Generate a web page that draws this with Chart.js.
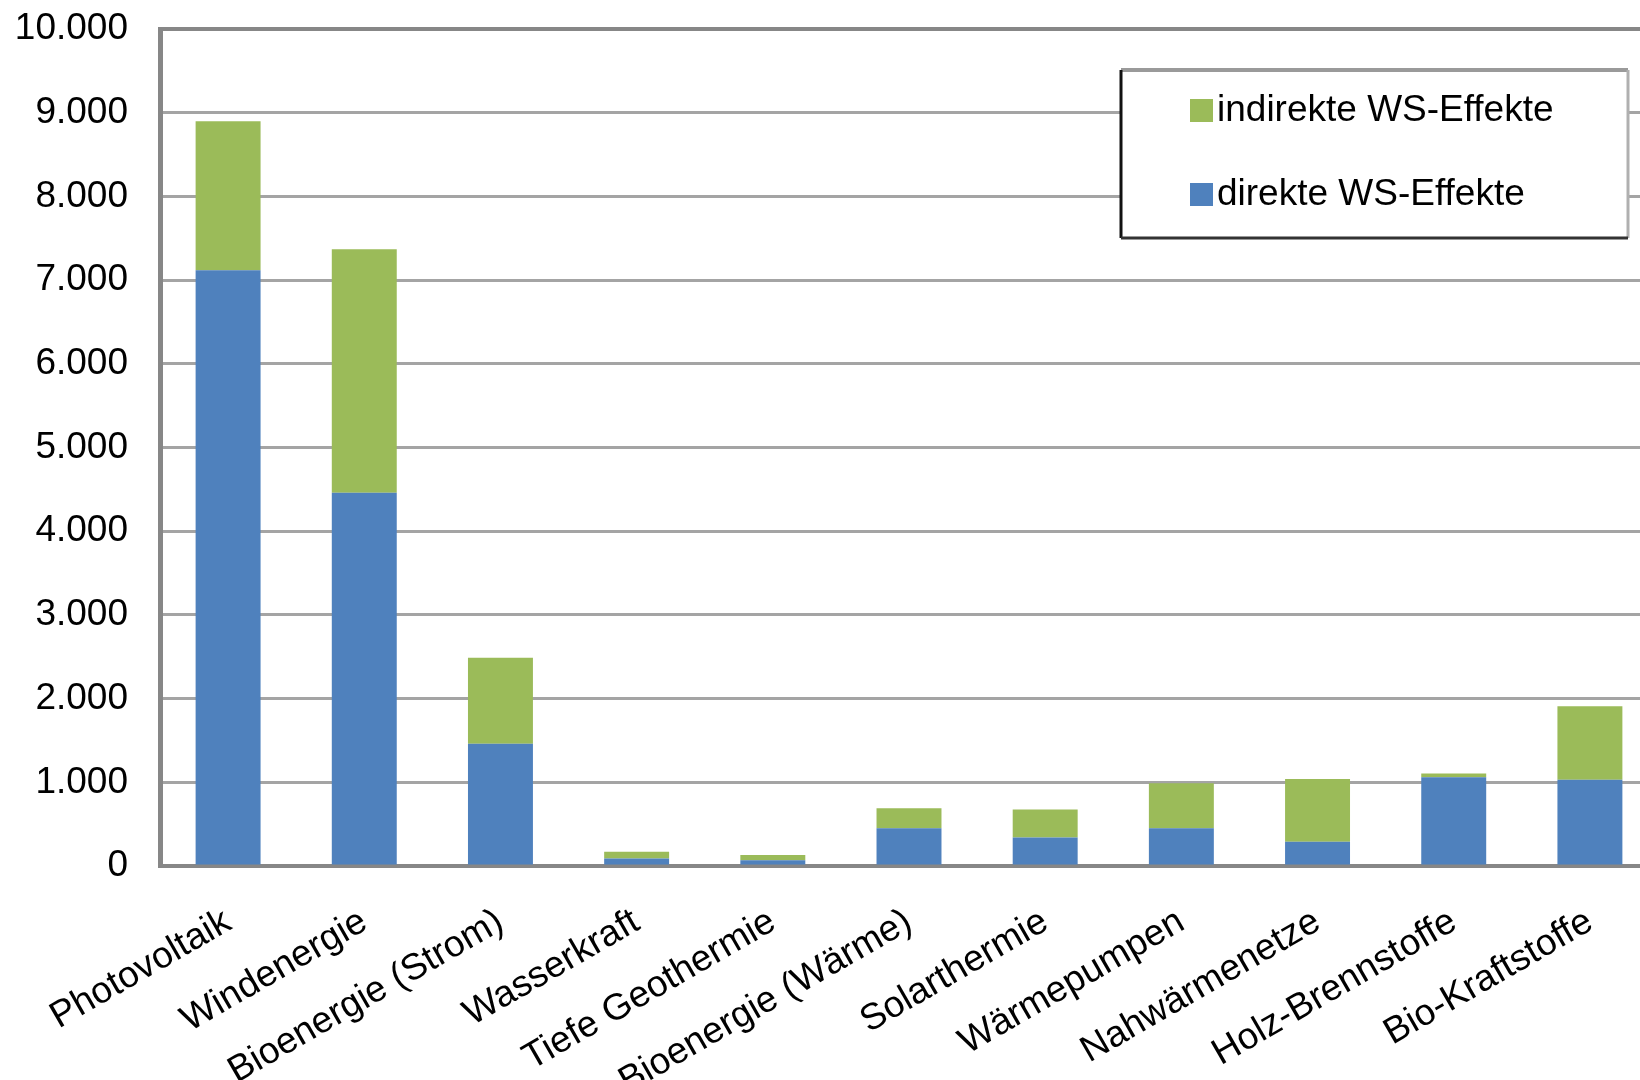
<!DOCTYPE html>
<html><head><meta charset="utf-8">
<script src="https://cdn.jsdelivr.net/npm/chart.js@4/dist/chart.umd.min.js"></script>
<style>
html,body{margin:0;padding:0;background:#fff;overflow:hidden;width:1640px;height:1080px}
#wrap{position:absolute;left:0;top:-25px;width:1680px;height:1105px}
</style>
</head><body>
<div id="wrap"><canvas id="c" width="1680" height="1105"></canvas></div>
<script>
const categories = ['Photovoltaik','Windenergie','Bioenergie (Strom)','Wasserkraft','Tiefe Geothermie','Bioenergie (Wärme)','Solarthermie','Wärmepumpen','Nahwärmenetze','Holz-Brennstoffe','Bio-Kraftstoffe'];
const direkteWS = [7120, 4460, 1460, 90, 70, 450, 340, 450, 290, 1060, 1030];
const indirekteWS = [1780, 2910, 1030, 80, 60, 240, 335, 540, 750, 45, 880];
const seriesNames = ['direkte WS-Effekte', 'indirekte WS-Effekte'];
const yTickValues = [0, 1000, 2000, 3000, 4000, 5000, 6000, 7000, 8000, 9000, 10000];
const yTickLabels = ['0', '1.000', '2.000', '3.000', '4.000', '5.000', '6.000', '7.000', '8.000', '9.000', '10.000'];

const FONT = "'Liberation Sans', Arial, sans-serif";
const BLUE = '#4f81bd', GREEN = '#9bbb59';
const SHIFT = 25; // canvas is shifted up by this many pixels

const legendBox = {
  id: 'legendBox',
  afterDraw(chart) {
    const ctx = chart.ctx;
    const x0 = 1121, y0 = 70 + SHIFT, x1 = 1628, y1 = 238 + SHIFT;
    ctx.save();
    ctx.fillStyle = '#ffffff';
    ctx.fillRect(x0, y0, x1 - x0, y1 - y0);
    ctx.lineWidth = 4; ctx.strokeStyle = '#9a9a9a';
    ctx.beginPath(); ctx.moveTo(x0, y0); ctx.lineTo(x1, y0); ctx.stroke();
    ctx.lineWidth = 3; ctx.strokeStyle = '#b0b0b0';
    ctx.beginPath(); ctx.moveTo(x1, y0); ctx.lineTo(x1, y1); ctx.stroke();
    ctx.lineWidth = 3; ctx.strokeStyle = '#111';
    ctx.beginPath(); ctx.moveTo(x0, y0); ctx.lineTo(x0, y1); ctx.stroke();
    ctx.lineWidth = 3; ctx.strokeStyle = '#333';
    ctx.beginPath(); ctx.moveTo(x0, y1); ctx.lineTo(x1, y1); ctx.stroke();
    const ds = chart.data.datasets.slice().reverse();
    const rows = [110 + SHIFT, 194 + SHIFT];
    ctx.font = '37px ' + FONT;
    ctx.textBaseline = 'middle';
    ctx.textAlign = 'left';
    ds.forEach((d, i) => {
      ctx.fillStyle = d.backgroundColor;
      ctx.fillRect(1190, rows[i] - 11, 23, 23);
      ctx.fillStyle = '#000';
      ctx.fillText(d.label, 1217, rows[i] + 1);
    });
    ctx.restore();
  }
};

new Chart(document.getElementById('c'), {
  type: 'bar',
  data: {
    labels: categories,
    datasets: [
      { label: seriesNames[0], data: direkteWS, backgroundColor: BLUE, borderWidth: 0 },
      { label: seriesNames[1], data: indirekteWS, backgroundColor: GREEN, borderWidth: 0 }
    ]
  },
  options: {
    responsive: false,
    animation: false,
    layout: { padding: { top: 2, right: 22, bottom: 0, left: 0 } },
    datasets: { bar: { barPercentage: 0.477, categoryPercentage: 1.0 } },
    plugins: { legend: { display: false }, tooltip: { enabled: false } },
    scales: {
      x: {
        stacked: true,
        grid: { display: true, color: 'rgba(0,0,0,0)', drawTicks: false },
        border: { display: true, color: '#878787', width: 4 },
        ticks: {
          autoSkip: false, minRotation: 30, maxRotation: 30, padding: 34,
          color: '#000', font: { family: FONT, size: 37 }
        },
        afterFit(scale) { scale.height = 214; }
      },
      y: {
        stacked: true,
        min: 0, max: 10000,
        afterBuildTicks(scale) { scale.ticks = yTickValues.map(v => ({ value: v })); },
        grid: {
          drawTicks: false,
          color: ctx => (ctx.tick && (ctx.tick.value === 10000) ? '#878787' : '#a4a4a4'),
          lineWidth: ctx => (ctx.tick && ctx.tick.value === 10000 ? 4 : 3)
        },
        border: { display: true, color: '#878787', width: 5 },
        ticks: {
          padding: 32, color: '#000', font: { family: FONT, size: 37 },
          callback: (v) => yTickLabels[yTickValues.indexOf(v)]
        },
        afterFit(scale) { scale.width = 160; }
      }
    }
  },
  plugins: [legendBox]
});
</script>
</body></html>
